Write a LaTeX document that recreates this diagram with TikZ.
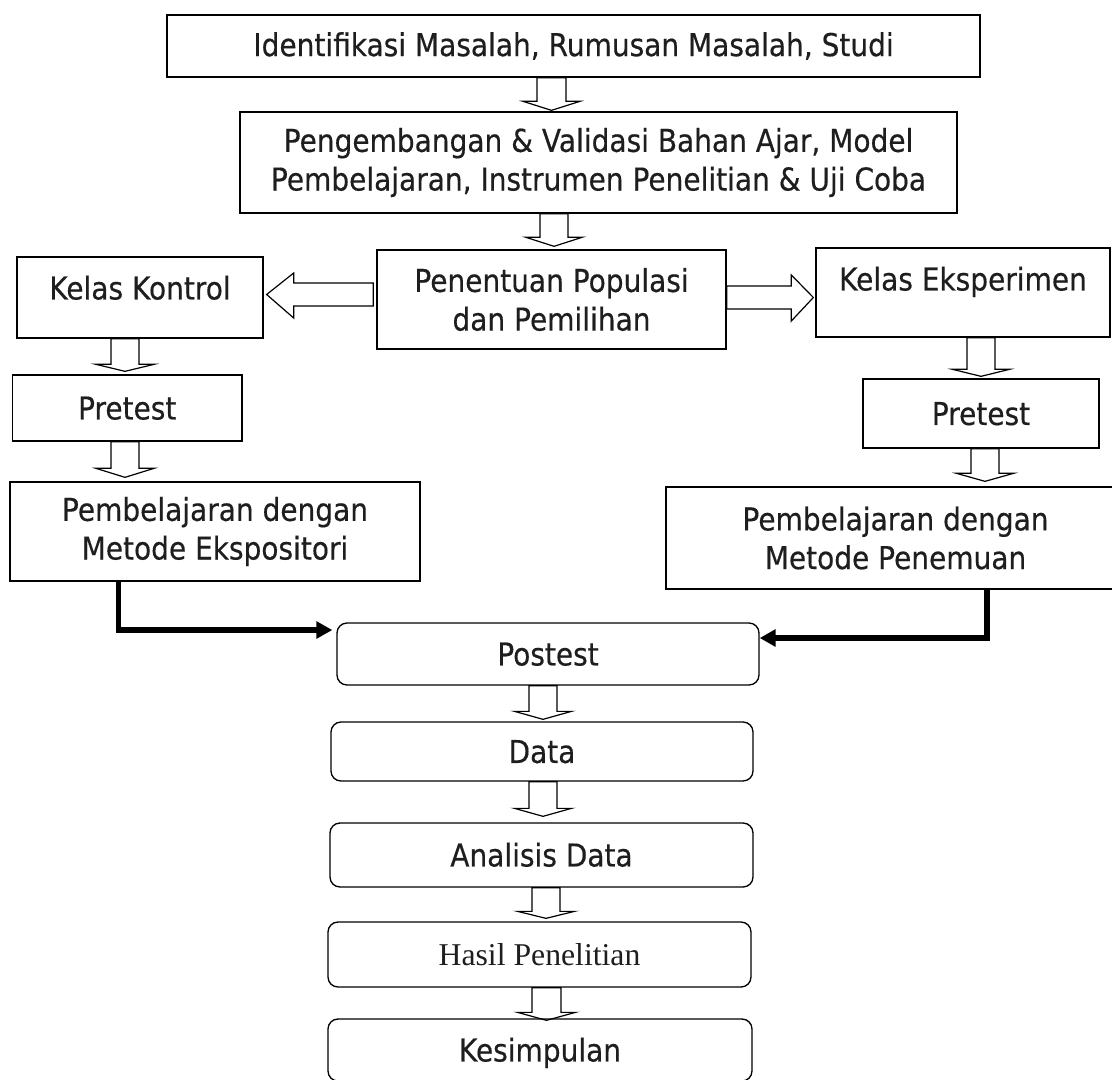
\documentclass[tikz,border=0pt]{standalone}
\usepackage{fontspec}
\usetikzlibrary{calc,arrows.meta}
\newfontfamily\tah{DejaVu Sans}[FakeStretch=0.89,FakeBold=0.4]
\newfontfamily\tms{Liberation Serif}
\definecolor{tx}{HTML}{1E1E1E}
\newdimen\pxu \pxu=0.75pt
\newcommand\bdown[7]{%
 \pgfmathsetmacro\xa{#3-#4}\pgfmathsetmacro\xb{#3+#4}%
 \pgfmathsetmacro\xc{#3-#5}\pgfmathsetmacro\xd{#3+#5}%
 \pgfmathsetmacro\yt{-#6}\pgfmathsetmacro\yb{-#6-#7}%
 \draw[blk] (#1.south -| \xa,0) -- (#1.south -| \xb,0)
   -- ($(#2.north -| \xb,0)+(0,\yb)$) -- ($(#2.north -| \xd,0)+(0,\yb)$)
   -- ($(#2.north -| #3,0)+(0,\yt)$) -- ($(#2.north -| \xc,0)+(0,\yb)$)
   -- ($(#2.north -| \xa,0)+(0,\yb)$) -- cycle;}
\tikzset{
 box/.style={draw, line width=1pt, inner sep=0pt, align=center, text=tx,
   font=\tah\fontsize{23.6pt}{29pt}\selectfont},
 sbox/.style={box, text height=17.2pt, text depth=0pt},
 rbox/.style={sbox, rounded corners=7.5pt},
 blk/.style={draw, line width=0.9pt, line join=miter},
 thk/.style={line width=4pt, line join=miter, -{Triangle[length=12pt,width=12.5pt]}},
}
\begin{document}
\begin{tikzpicture}[x=0.75pt,y=-0.75pt]
\useasboundingbox (0,0) rectangle (1112,1079);
% boxes
\node[box, minimum width=813\pxu, minimum height=62\pxu] (b1) at (573.5,46)
  {Identifikasi Masalah, Rumusan Masalah, Studi};
\node[box, minimum width=717\pxu, minimum height=101\pxu] (b2) at (598.5,162.5)
  {Pengembangan \& Validasi Bahan Ajar, Model\\Pembelajaran, Instrumen Penelitian \& Uji Coba};
\node[box, minimum width=349\pxu, minimum height=99\pxu] (b3) at (551.5,299.5)
  {Penentuan Populasi\\dan Pemilihan};
\node[sbox, text depth=14.25pt, minimum width=246\pxu, minimum height=81\pxu] (kk) at (140,297.5)
  {Kelas Kontrol};
\node[sbox, text depth=20.25pt, minimum width=294\pxu, minimum height=89\pxu] (ke) at (963,292.5)
  {Kelas Eksperimen};
\node[sbox, minimum width=229.5\pxu, minimum height=66\pxu] (pl) at (127.25,408) {Pretest};
\node[sbox, minimum width=236\pxu, minimum height=69\pxu] (pr) at (981,413.5) {Pretest};
\node[box, minimum width=410\pxu, minimum height=99\pxu] (ml) at (215,531.5)
  {Pembelajaran dengan\\Metode Ekspositori};
\node[box, minimum width=459\pxu, minimum height=102\pxu] (mr) at (895.5,538)
  {Pembelajaran dengan\\Metode Penemuan};
\node[rbox, minimum width=422\pxu, minimum height=62\pxu] (post) at (548,654) {Postest};
\node[rbox, minimum width=422\pxu, minimum height=59\pxu] (data) at (542,751.5) {Data};
\node[rbox, minimum width=423\pxu, minimum height=64\pxu] (an) at (541.5,855) {Analisis Data};
\node[rbox, minimum width=423\pxu, minimum height=65\pxu, text height=15.75pt,
  font=\tms\fontsize{23.8pt}{29pt}\selectfont] (has) at (539.5,954.5) {Hasil Penelitian};
\node[rbox, minimum width=424\pxu, minimum height=62\pxu] (kes) at (540,1050) {Kesimpulan};
% block arrows (from, to, cx, half shaft, half head, gap, head length)
\bdown{b1}{b2}{551.5}{14.5}{28.5}{1}{9}
\bdown{b2}{b3}{554}{14}{28}{3}{9}
\bdown{kk}{pl}{125}{14}{29}{3}{7}
\bdown{pl}{ml}{125}{14}{29}{4}{9}
\bdown{ke}{pr}{981}{14}{28.5}{2}{7}
\bdown{pr}{mr}{985}{14}{28.5}{5}{8}
\bdown{post}{data}{543}{14}{28.5}{2}{8}
\bdown{data}{an}{543}{14}{28.5}{6}{8}
\bdown{an}{has}{546}{14}{28.5}{3}{7}
\bdown{has}{kes}{546.5}{14.5}{29}{-2}{8}
% horizontal block arrows
\draw[blk] ($(b3.west |- 0,283)+(-3,0)$) -- ($(kk.east |- 0,283)+(30,0)$)
  -- ($(kk.east |- 0,273)+(30,0)$) -- ($(kk.east |- 0,294.5)+(3,0)$)
  -- ($(kk.east |- 0,318)+(30,0)$) -- ($(kk.east |- 0,306)+(30,0)$)
  -- ($(b3.west |- 0,306)+(-3,0)$) -- cycle;
\draw[blk] (b3.east |- 0,286) -- ($(ke.west |- 0,286)+(-24,0)$)
  -- ($(ke.west |- 0,275)+(-24,0)$) -- ($(ke.west |- 0,297.5)+(-2,0)$)
  -- ($(ke.west |- 0,321)+(-24,0)$) -- ($(ke.west |- 0,309)+(-24,0)$)
  -- (b3.east |- 0,309) -- cycle;
% thick connectors
\coordinate (jl) at (118.5,630);
\coordinate (jr) at (987,638);
\draw[thk, shorten >=3pt] (ml.south -| jl) -- (jl) -- (post.west |- jl);
\draw[thk] (mr.south -| jr) -- (jr) -- (post.east |- jr);
\end{tikzpicture}
\end{document}
